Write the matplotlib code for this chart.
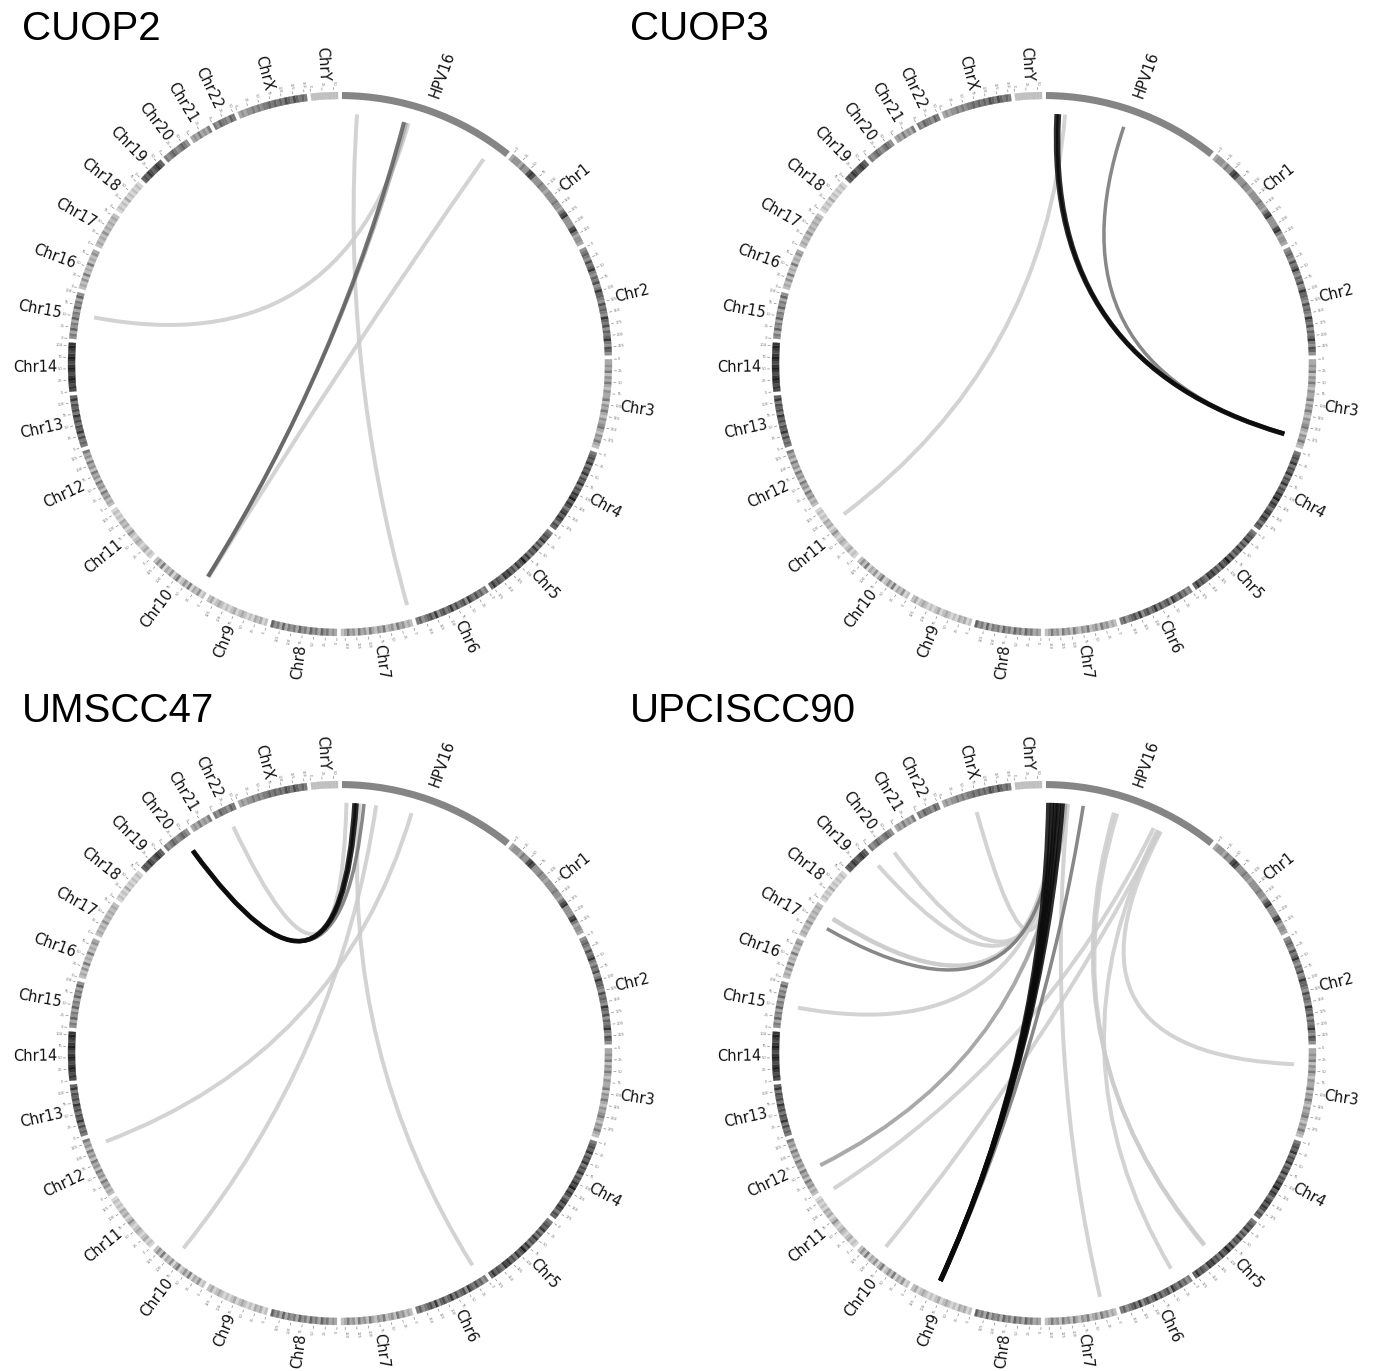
import numpy as np
import matplotlib
matplotlib.use("Agg")
import matplotlib.pyplot as plt
from matplotlib.patches import Wedge, PathPatch
from matplotlib.path import Path
from matplotlib.collections import LineCollection

# ---------------- data ----------------
CHROMS = ["Chr1", "Chr2", "Chr3", "Chr4", "Chr5", "Chr6", "Chr7", "Chr8", "Chr9",
          "Chr10", "Chr11", "Chr12", "Chr13", "Chr14", "Chr15", "Chr16", "Chr17",
          "Chr18", "Chr19", "Chr20", "Chr21", "Chr22", "ChrX", "ChrY"]
CHROM_MB = [249.3, 243.2, 198.0, 191.2, 180.9, 171.1, 159.1, 146.4, 141.2, 135.5,
            135.0, 133.9, 115.2, 107.3, 102.5, 90.4, 81.2, 78.1, 59.1, 63.0,
            48.1, 51.3, 155.3, 59.4]
HPV_NAME = "HPV16"
HPV_KB = 7.906

# banding density (0 = light ... 9 = dark), equal bins along each chromosome
BANDS = [
    "3444354478744454434444544357844447853443",
    "4565475685465745866547565486574656854764",
    "33435243532433524353243453243532",
    "5676857685768576879687578687576",
    "567685758675869768576878567686",
    "5465756847657586576485765465",
    "23243524325342352435243532",
    "343546354635463545363546",
    "21323121232132121232132",
    "2142315242153142315242",
    "1213212321242132312121",
    "2324352435243524352435",
    "5657586757685767586",
    "787898789878987898",
    "45364536453645364",
    "232425232523243",
    "2323242323232",
    "1212131212121",
    "6768767876",
    "5456545654",
    "34353435",
    "54655465",
    "3434454545565656576576565",
    "2222222222",
]

SAMPLES = ["CUOP2", "CUOP3", "UMSCC47", "UPCISCC90"]

# HPV16-human junction links: sample index, HPV16 position (kb), human chromosome,
# human position (Mb), read support class (1 = low ... 5 = high)
L_SAMPLE = [0, 0, 0, 0, 0,
            1, 1, 1, 1,
            2, 2, 2, 2, 2, 2, 2,
            3, 3, 3, 3, 3, 3, 3, 3, 3, 3, 3, 3, 3, 3, 3, 3, 3, 3, 3, 3, 3, 3]
L_HPV_KB = [0.72, 2.98, 3.10, 3.20, 7.16,
            0.51, 0.62, 0.91, 3.76,
            0.60, 0.70, 1.05, 0.22, 1.63, 3.35, 0.84,
            0.12, 0.29, 0.45, 0.62, 0.80, 1.78, 0.33, 0.49, 0.57, 0.37, 0.49, 0.53,
            0.74, 0.86, 0.95, 5.29, 5.60, 1.05, 5.50, 3.27, 3.43, 5.67]
L_CHROM = ["Chr7", "Chr10", "Chr10", "Chr15", "Chr10",
           "Chr3", "Chr3", "Chr11", "Chr3",
           "Chr20", "Chr20", "Chr20", "Chr22", "Chr10", "Chr12", "Chr6",
           "Chr9", "Chr9", "Chr9", "Chr9", "Chr9", "Chr9", "ChrX", "Chr20", "Chr19",
           "Chr17", "Chr17", "Chr17", "Chr15", "Chr12", "Chr12", "Chr11", "Chr10",
           "Chr7", "Chr6", "Chr5", "Chr5", "Chr3"]
L_MB = [1.0, 16.0, 17.0, 55.0, 14.0,
        178.0, 177.0, 91.0, 176.0,
        45.0, 46.0, 44.0, 28.0, 87.0, 114.0, 12.0,
        90.0, 90.5, 91.0, 89.5, 90.2, 88.0, 67.0, 38.0, 57.0, 69.0, 67.0, 41.0,
        52.0, 52.0, 53.5, 133.0, 92.0, 28.0, 27.0, 119.0, 121.0, 37.0]
L_SUPPORT = [1, 4, 2, 1, 1,
             5, 5, 1, 3,
             5, 5, 3, 1, 1, 1, 1,
             5, 5, 5, 5, 5, 3, 1, 1, 1, 1, 1, 3,
             1, 2, 2, 1, 1, 1, 1, 1, 1, 1]

# ---------------- layout / style ----------------
W, H, DPI = 1378, 1371, 100
RPX = 272.0
CENTERS = [(340, 364), (1044, 364), (340, 1053), (1044, 1053)]
TITLE_XY = [(22, 40), (630, 40), (22, 722), (630, 722)]
GAP = 0.85
HPV_SPAN = 38.2
START = GAP / 2
R_OUT, R_IN, R_LINK = 1.0, 0.974, 0.92
R_LABEL = 1.04
DPM = (360 - 25 * GAP - HPV_SPAN) / sum(CHROM_MB)
HPV_GRAY = "#858585"
SUPPORT_GRAY = {1: 0.80, 2: 0.66, 3: 0.45, 4: 0.36, 5: 0.04}
SUPPORT_PX = {1: 4.0, 2: 3.5, 3: 3.5, 4: 4.0, 5: 4.5}

chrom_start = []
a = START + HPV_SPAN + GAP
for L in CHROM_MB:
    chrom_start.append(a)
    a += L * DPM + GAP


def hpv_angle(kb):
    return START + kb / HPV_KB * HPV_SPAN


def chrom_angle(name, mb):
    i = CHROMS.index(name)
    return chrom_start[i] + mb * DPM


def xy(theta, r):
    t = np.deg2rad(theta)
    return r * np.sin(t), r * np.cos(t)


def band_gray(d):
    v = 0.93 - int(d) * 0.09
    return (v, v, v)


def radial_text(ax, theta, r, s, **kw):
    th = theta % 360
    if th < 180:
        rot, ha = 90 - th, "left"
    else:
        rot, ha = 270 - th, "right"
    x, y = xy(th, r)
    ax.text(x, y, s, rotation=rot, ha=ha, va="center", rotation_mode="anchor",
            clip_on=False, **kw)


fig = plt.figure(figsize=(W / DPI, H / DPI), dpi=DPI)
fig.patch.set_facecolor("white")
ext = 1.32
px2pt = 72.0 / DPI

for p, (cx, cy) in enumerate(CENTERS):
    ax = fig.add_axes([(cx - ext * RPX) / W, (H - cy - ext * RPX) / H,
                       2 * ext * RPX / W, 2 * ext * RPX / H])
    ax.set_xlim(-ext, ext)
    ax.set_ylim(-ext, ext)
    ax.axis("off")

    # HPV16 segment
    ax.add_patch(Wedge((0, 0), R_OUT, 90 - (START + HPV_SPAN), 90 - START,
                       width=R_OUT - R_IN, facecolor=HPV_GRAY, edgecolor="none"))
    radial_text(ax, START + HPV_SPAN / 2, R_LABEL, HPV_NAME, fontsize=10.5,
                family="DejaVu Sans", color="#111111")

    ticks = []
    for i, name in enumerate(CHROMS):
        s0 = chrom_start[i]
        L = CHROM_MB[i]
        bands = BANDS[i]
        n = len(bands)
        for k, d in enumerate(bands):
            t1 = s0 + L * DPM * k / n
            t2 = s0 + L * DPM * (k + 1) / n
            c = band_gray(d)
            ax.add_patch(Wedge((0, 0), R_OUT, 90 - t2, 90 - t1, width=R_OUT - R_IN,
                               facecolor=c, edgecolor=c, linewidth=0.2))
        for mb in np.arange(0, L + 0.01, 25):
            th = s0 + mb * DPM
            ticks.append([xy(th, 1.008), xy(th, 1.018)])
            radial_text(ax, th, 1.022, f"{int(mb)}", fontsize=2.7, color="#777777",
                        family="DejaVu Sans")
        radial_text(ax, s0 + L * DPM / 2, R_LABEL, name, fontsize=10.5,
                    family="DejaVu Sans", color="#111111")
    ax.add_collection(LineCollection(ticks, colors="#888888", linewidths=0.5))

    # links
    idx = [j for j in range(len(L_SAMPLE)) if L_SAMPLE[j] == p]
    idx.sort(key=lambda j: L_SUPPORT[j])
    for j in idx:
        a1 = hpv_angle(L_HPV_KB[j])
        a2 = chrom_angle(L_CHROM[j], L_MB[j])
        p0 = xy(a1, R_LINK)
        p2 = xy(a2, R_LINK)
        path = Path([p0, (0, 0), p2], [Path.MOVETO, Path.CURVE3, Path.CURVE3])
        g = SUPPORT_GRAY[L_SUPPORT[j]]
        ax.add_patch(PathPatch(path, fill=False, edgecolor=(g, g, g), alpha=0.85,
                               linewidth=SUPPORT_PX[L_SUPPORT[j]] * px2pt,
                               capstyle="butt"))

for p, (tx, ty) in enumerate(TITLE_XY):
    fig.text(tx / W, 1 - ty / H, SAMPLES[p], fontsize=29, family="Liberation Sans",
             ha="left", va="baseline", color="black")

fig.savefig("out.png", dpi=DPI, facecolor="white")
